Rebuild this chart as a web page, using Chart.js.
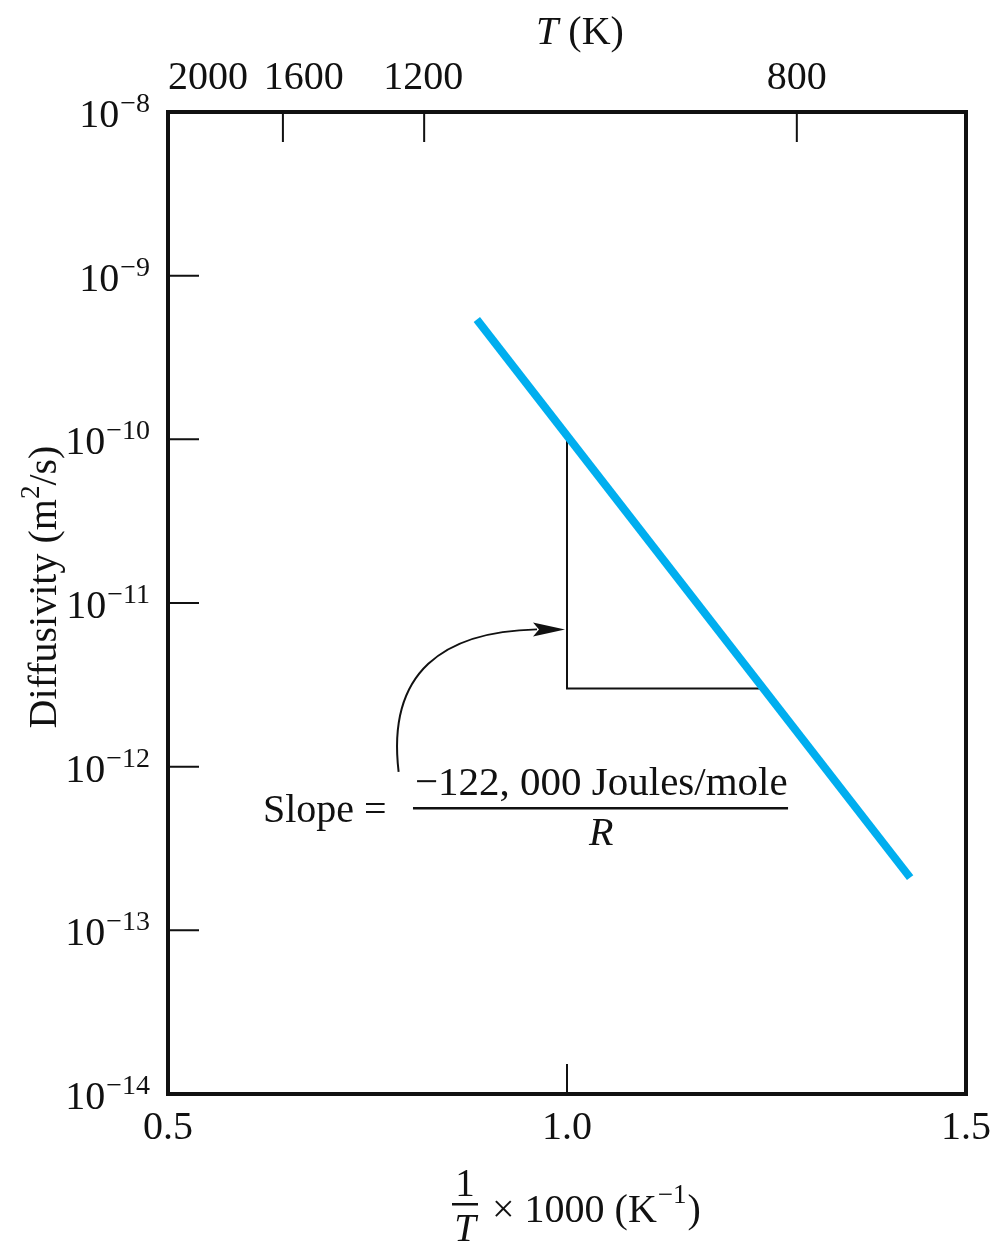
<!DOCTYPE html>
<html>
<head>
<meta charset="utf-8">
<script src="https://cdn.jsdelivr.net/npm/chart.js@4.4.1/dist/chart.umd.min.js"></script>
<style>
  html, body { margin: 0; padding: 0; background: #fff; }
  #wrap { width: 996px; height: 1247px; }
</style>
</head>
<body>
<div id="wrap"><canvas id="diffChart" width="996" height="1247"></canvas></div>
<script>
// values
const invTRange = [0.5, 1.5];                 // 1000/T axis
const xTickValues = [0.5, 1.0, 1.5];
const xTickLabels = ['0.5', '1.0', '1.5'];
const yExponents = [-8, -9, -10, -11, -12, -13, -14];
const tempLabels = ['2000', '1600', '1200', '800'];
const tempLabelAt = [0.55, 0.67, 0.82, 1.288];  // where the figure prints them
const tempTickAt = [0.644, 0.821, 1.288];       // where the figure puts the tick marks

const lineX = [0.887, 1.430];
const lineD = [5.4e-10, 2.1e-13];

const triX = [1.0, 1.0, 1.246];
const triD = [1.05e-10, 3.0e-12, 3.0e-12];

const ink = '#111';
const serif = '"Liberation Serif", "DejaVu Serif", serif';

const toPoints = (xs, ys) => xs.map((x, i) => ({ x: x, y: ys[i] }));

// frame, inward ticks, superscript labels, titles, annotation
const figureDecor = {
  id: 'figureDecor',
  afterDraw(chart) {
    const { ctx, chartArea: a, scales } = chart;
    const xs = scales.x, ys = scales.y;
    const px = v => xs.getPixelForValue(v);
    const py = v => ys.getPixelForValue(v);
    ctx.save();

    ctx.strokeStyle = ink;
    ctx.lineWidth = 4;
    ctx.strokeRect(a.left, a.top, a.right - a.left, a.bottom - a.top);

    ctx.lineWidth = 2;
    ctx.beginPath();
    ys.ticks.forEach(t => {
      const y = py(t.value);
      if (y > a.top + 3 && y < a.bottom - 3) { ctx.moveTo(a.left, y); ctx.lineTo(a.left + 31, y); }
    });
    xs.ticks.forEach(t => {
      const x = px(t.value);
      if (x > a.left + 3 && x < a.right - 3) { ctx.moveTo(x, a.bottom); ctx.lineTo(x, a.bottom - 30); }
    });
    tempTickAt.forEach(v => { const x = px(v); ctx.moveTo(x, a.top); ctx.lineTo(x, a.top + 30); });
    ctx.stroke();

    // y tick labels 10^n
    ctx.fillStyle = ink;
    ctx.textBaseline = 'alphabetic';
    yExponents.forEach(e => {
      const y = py(Math.pow(10, e));
      const exp = '\u2212' + Math.abs(e);
      ctx.font = '28px ' + serif;
      const ew = ctx.measureText(exp).width;
      const right = a.left - 18;
      ctx.textAlign = 'left';
      ctx.fillText(exp, right - ew, y);
      ctx.font = '40px ' + serif;
      ctx.textAlign = 'right';
      ctx.fillText('10', right - ew - 1, y + 15);
    });

    // y title
    ctx.save();
    ctx.translate(42, 587);
    ctx.rotate(-Math.PI / 2);
    ctx.textAlign = 'left';
    ctx.font = '40px ' + serif;
    const p1 = 'Diffusivity (m', p3 = '/s)';
    const w1 = ctx.measureText(p1).width, w3 = ctx.measureText(p3).width;
    ctx.font = '27px ' + serif;
    const w2 = ctx.measureText('2').width;
    let x0 = -(w1 + w2 + w3) / 2;
    ctx.font = '40px ' + serif;
    ctx.fillText(p1, x0, 14);
    ctx.font = '27px ' + serif;
    ctx.fillText('2', x0 + w1, -3);
    ctx.font = '40px ' + serif;
    ctx.fillText(p3, x0 + w1 + w2, 14);
    ctx.restore();

    // top title T (K)
    ctx.textAlign = 'left';
    ctx.font = 'italic 40px ' + serif;
    const tw = ctx.measureText('T').width;
    ctx.font = '40px ' + serif;
    const kw = ctx.measureText(' (K)').width;
    let tx = 580 - (tw + kw) / 2;
    ctx.font = 'italic 40px ' + serif;
    ctx.fillText('T', tx, 44);
    ctx.font = '40px ' + serif;
    ctx.fillText(' (K)', tx + tw, 44);

    // bottom title 1/T x 1000 (K^-1)
    ctx.textAlign = 'center';
    ctx.font = '39px ' + serif;
    ctx.fillText('1', 465, 1196);
    ctx.fillRect(452, 1203, 26, 2.5);
    ctx.font = 'italic 39px ' + serif;
    ctx.fillText('T', 465, 1241);
    ctx.textAlign = 'left';
    ctx.font = '40px ' + serif;
    const m1 = '\u00d7 1000 (K';
    ctx.fillText(m1, 492, 1222);
    let bx = 492 + ctx.measureText(m1).width;
    ctx.font = '27px ' + serif;
    const sup = '\u22121';
    ctx.fillText(sup, bx + 1, 1203);
    bx += ctx.measureText(sup).width + 2;
    ctx.font = '40px ' + serif;
    ctx.fillText(')', bx, 1222);

    // curved arrow to the triangle
    const sx = px(0.789), sy = py(9.3e-13);
    const ex = px(triX[0]) - 2, ey = py(6.9e-12);
    ctx.lineWidth = 2;
    ctx.beginPath();
    ctx.moveTo(sx, sy);
    ctx.bezierCurveTo(sx - 12, sy - 100, sx + 45, ey + 2, ex - 28, ey);
    ctx.stroke();
    ctx.beginPath();
    ctx.moveTo(ex, ey);
    ctx.lineTo(ex - 32, ey - 7);
    ctx.lineTo(ex - 26, ey);
    ctx.lineTo(ex - 32, ey + 7);
    ctx.closePath();
    ctx.fill();

    // slope text
    const fy = py(5.59e-13);
    const fx = px(1.043);
    ctx.font = '40px ' + serif;
    ctx.textAlign = 'right';
    ctx.fillText('Slope =', px(0.774), fy + 14);
    ctx.textAlign = 'center';
    ctx.font = '41px ' + serif;
    ctx.fillText('\u2212122, 000 Joules/mole', fx, fy - 13);
    ctx.fillRect(px(0.807), fy - 1, px(1.277) - px(0.807), 2.5);
    ctx.font = 'italic 40px ' + serif;
    ctx.fillText('R', fx, fy + 37);

    ctx.restore();
  }
};

const ctx = document.getElementById('diffChart').getContext('2d');
new Chart(ctx, {
  type: 'line',
  data: {
    datasets: [{
      label: 'Diffusivity',
      data: toPoints(lineX, lineD),
      borderColor: '#00aeef',
      borderWidth: 8,
      borderCapStyle: 'butt',
      pointRadius: 0,
      fill: false
    }, {
      label: 'slope triangle',
      data: toPoints(triX, triD),
      borderColor: ink,
      borderWidth: 2,
      pointRadius: 0,
      fill: false
    }]
  },
  options: {
    responsive: false,
    animation: false,
    layout: { padding: { left: 0, right: 30, top: 0, bottom: 0 } },
    plugins: {
      legend: { display: false },
      tooltip: { enabled: false }
    },
    scales: {
      x: {
        type: 'linear',
        position: 'bottom',
        min: invTRange[0],
        max: invTRange[1],
        afterBuildTicks: axis => { axis.ticks = xTickValues.map(v => ({ value: v })); },
        afterFit: axis => { axis.height = 153; axis.paddingLeft = 0; axis.paddingRight = 0; },
        grid: { display: false, drawTicks: false },
        border: { display: false },
        ticks: {
          padding: 10,
          color: ink,
          font: { family: serif, size: 40 },
          maxRotation: 0,
          autoSkip: false,
          callback: (v, i) => xTickLabels[i]
        }
      },
      xTop: {
        type: 'linear',
        position: 'top',
        min: invTRange[0],
        max: invTRange[1],
        afterBuildTicks: axis => { axis.ticks = tempLabelAt.map(v => ({ value: v })); },
        afterFit: axis => { axis.height = 112; axis.paddingLeft = 0; axis.paddingRight = 0; },
        grid: { display: false, drawTicks: false },
        border: { display: false },
        ticks: {
          padding: 10,
          color: ink,
          font: { family: serif, size: 40 },
          maxRotation: 0,
          autoSkip: false,
          callback: (v, i) => tempLabels[i]
        }
      },
      y: {
        type: 'logarithmic',
        min: Math.pow(10, yExponents[yExponents.length - 1]),
        max: Math.pow(10, yExponents[0]),
        afterBuildTicks: axis => { axis.ticks = yExponents.map(e => ({ value: Math.pow(10, e) })); },
        afterFit: axis => { axis.width = 168; axis.paddingTop = 0; axis.paddingBottom = 0; },
        grid: { display: false, drawTicks: false },
        border: { display: false },
        ticks: { display: false }
      }
    }
  },
  plugins: [figureDecor]
});
</script>
</body>
</html>
